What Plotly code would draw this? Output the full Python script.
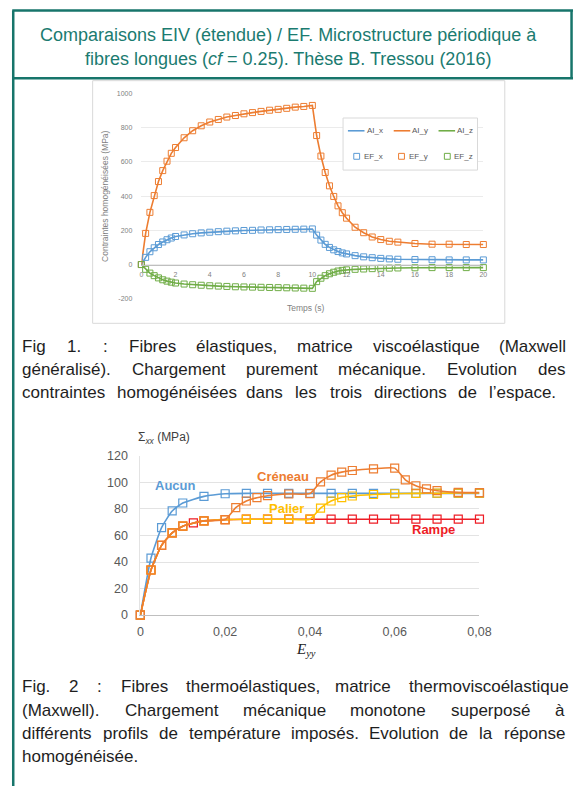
import plotly.graph_objects as go

W, H = 585, 793

# ---------------- Chart 1 data (time in s, stresses in MPa) ----------------
time_s = [0, 0.25, 0.5, 0.75, 1, 1.25, 1.5, 1.75, 2, 2.5, 3, 3.5, 4, 4.5, 5, 5.5, 6, 6.5,
          7, 7.5, 8, 8.5, 9, 9.5, 10, 10.25, 10.5, 10.75, 11, 11.25, 11.5, 11.75, 12,
          12.5, 13, 13.5, 14, 14.5, 15, 16, 17, 18, 19, 20]
sigma_x = [0, 42, 75, 98, 117, 132, 145, 155, 164, 173, 180, 185, 189, 192, 195, 197, 199, 200,
           202, 203, 204, 205, 206, 207, 208, 172, 143, 118, 100, 86, 76, 68, 62,
           52, 45, 40, 36, 33, 31, 29, 28, 27, 27, 27]
sigma_y = [0, 182, 305, 403, 485, 549, 604, 650, 684, 741, 782, 811, 833, 848, 862, 871, 881, 888,
           895, 902, 907, 913, 920, 924, 930, 754, 634, 538, 460, 398, 343, 303, 271,
           218, 186, 161, 146, 136, 131, 123, 119, 119, 117, 117]
sigma_z = [0, -28, -50, -65, -78, -89, -97, -103, -108, -114, -118, -121, -124, -126, -128, -130, -131, -132,
           -133, -134, -135, -136, -137, -138, -139, -100, -80, -65, -54, -45, -38, -34, -31,
           -28, -26, -24, -22, -21, -20, -19, -18, -18, -18, -18]
series1_names = ["x", "y", "z"]
y1_ticks = [-200, 0, 200, 400, 600, 800, 1000]
y1_ticklabels = ["-200", "0", "200", "400", "600", "800", "1000"]
x1_ticks = [0, 2, 4, 6, 8, 10, 12, 14, 16, 18, 20]

# ---------------- Chart 2 data (strain E_yy, stress Sigma_xx in MPa) ----------------
eps_aucun = [0, 0.0025, 0.005, 0.0075, 0.01, 0.015, 0.02, 0.025, 0.03, 0.035, 0.04, 0.045,
             0.05, 0.055, 0.06, 0.065, 0.07, 0.075, 0.08]
sig_aucun = [0, 43, 66, 78.5, 84.5, 89.5, 91.5, 91.8, 91.8, 91.8, 91.8, 91.8,
             91.8, 91.8, 91.8, 91.8, 91.8, 91.8, 91.8]
eps_rampe = [0, 0.0025, 0.005, 0.0075, 0.01, 0.0125, 0.015, 0.02, 0.025, 0.03, 0.035, 0.04,
             0.045, 0.05, 0.055, 0.06, 0.065, 0.07, 0.075, 0.08]
sig_rampe = [0, 34, 52.5, 62, 67, 69.5, 71, 72, 72.3, 72.3, 72.3, 72.3,
             72.3, 72.3, 72.3, 72.3, 72.3, 72.3, 72.3, 72.3]
eps_palier = [0, 0.0025, 0.005, 0.0075, 0.01, 0.015, 0.02, 0.025, 0.03, 0.035, 0.04, 0.0425,
              0.045, 0.0475, 0.05, 0.055, 0.06, 0.065, 0.07, 0.075, 0.08]
sig_palier = [0, 34, 52.5, 62, 67, 71, 72, 72.3, 72.3, 72.3, 72.3, 80.6,
              86, 88.6, 89.8, 90.9, 91.5, 91.8, 91.9, 92, 92]
eps_creneau = [0, 0.0025, 0.005, 0.0075, 0.01, 0.015, 0.02, 0.0225, 0.025, 0.0275, 0.03, 0.035,
               0.04, 0.0425, 0.045, 0.0475, 0.05, 0.055, 0.06, 0.0625, 0.065, 0.0675, 0.07, 0.075, 0.08]
sig_creneau = [0, 34, 52.5, 62, 67, 71, 72, 81, 86, 88.5, 90, 91.3,
               91.6, 100.5, 105.5, 107.8, 109, 110.3, 110.8, 102, 97.5, 95.2, 93.8, 92.5, 92.3]
series2_names = ["Aucun", "Rampe", "Palier", "Créneau"]

# ---------------- texts ----------------
title_lines = ["Comparaisons EIV (étendue) / EF. Microstructure périodique à",
               "fibres longues (<i>cf</i> = 0.25). Thèse B. Tressou (2016)"]
caption1 = ["Fig 1. : Fibres élastiques, matrice viscoélastique (Maxwell",
            "généralisé). Chargement purement mécanique. Evolution des",
            "contraintes homogénéisées dans les trois directions de l’espace."]
caption2 = ["Fig. 2 : Fibres thermoélastiques, matrice thermoviscoélastique",
            "(Maxwell). Chargement mécanique monotone superposé à",
            "différents profils de température imposés. Evolution de la réponse",
            "homogénéisée."]

# ---------------- helpers (pixels -> paper fractions) ----------------
def px(x):
    return x / W


def py(y):
    return 1 - y / H


TEAL = "#17756B"
TEAL_TXT = "#1B7B70"
BLUE, ORANGE, GREEN = "#5B9BD5", "#ED7D31", "#70AD47"
YELLOW, RED = "#FFC000", "#EE1C25"
SANS = "Liberation Sans, Arial, sans-serif"
GRAY_TXT = "#7F7F7F"

fig = go.Figure()

# chart 1 traces
cols1 = [BLUE, ORANGE, GREEN]
vals1 = [sigma_x, sigma_y, sigma_z]
for n, v, c in zip(series1_names, vals1, cols1):
    fig.add_trace(go.Scatter(x=time_s, y=v, mode="lines", name="AI_" + n,
                             line=dict(color=c, width=1.6), showlegend=False,
                             xaxis="x", yaxis="y", cliponaxis=False, hoverinfo="skip"))
for n, v, c in zip(series1_names, vals1, cols1):
    fig.add_trace(go.Scatter(x=time_s, y=v, mode="markers", name="EF_" + n,
                             marker=dict(symbol="square-open", size=6, color=c, line=dict(width=1, color=c)),
                             showlegend=False, xaxis="x", yaxis="y", cliponaxis=False))

# chart 2 traces
cols2 = [BLUE, RED, YELLOW, ORANGE]
xs2 = [eps_aucun, eps_rampe, eps_palier, eps_creneau]
ys2 = [sig_aucun, sig_rampe, sig_palier, sig_creneau]
for n, xv, yv, c in zip(series2_names, xs2, ys2, cols2):
    fig.add_trace(go.Scatter(x=xv, y=yv, mode="lines+markers", name=n,
                             line=dict(color=c, width=1.6, shape="spline", smoothing=0.5),
                             marker=dict(symbol="square-open", size=8, color=c, line=dict(width=1.2, color=c)),
                             showlegend=False, xaxis="x2", yaxis="y2", cliponaxis=False))

# axes geometry (pixels)
c1_top, c1_bot, c1_l, c1_r = 88, 297, 142, 493
c2_top, c2_bot, c2_l, c2_r = 457, 619, 141, 489
y1_dom = [py(c1_bot), py(c1_top)]
zero_pos = y1_dom[0] + (0 - (-200)) / 1200 * (y1_dom[1] - y1_dom[0])

tick1 = dict(size=7, color=GRAY_TXT, family=SANS)
tick2 = dict(size=12.5, color="#595959", family=SANS)

fig.update_layout(
    width=W, height=H, autosize=False,
    margin=dict(l=0, r=0, t=0, b=0, pad=0),
    paper_bgcolor="white", plot_bgcolor="white",
    separators=", ",
    showlegend=False,
    xaxis=dict(domain=[px(c1_l), px(c1_r)], range=[0, 20], anchor="free", position=zero_pos,
               tickmode="array", tickvals=x1_ticks, showgrid=False, zeroline=False,
               showline=True, linecolor="#BFBFBF", linewidth=1, ticks="",
               tickfont=tick1, ticklabelstandoff=3, fixedrange=True),
    yaxis=dict(domain=y1_dom, range=[-200, 1000], anchor="x", tickmode="array",
               tickvals=y1_ticks, ticktext=y1_ticklabels, showgrid=True, gridcolor="#EBEBEB",
               gridwidth=1, zeroline=False, showline=False, ticks="", tickfont=tick1,
               ticklabelstandoff=8, fixedrange=True),
    xaxis2=dict(domain=[px(c2_l), px(c2_r)], range=[0, 0.08], anchor="y2", dtick=0.02,
                tick0=0, showgrid=False, zeroline=False, showline=True, linecolor="#BFBFBF",
                linewidth=1, ticks="", tickfont=tick2, ticklabelstandoff=5, fixedrange=True),
    yaxis2=dict(domain=[py(c2_bot), py(c2_top)], range=[0, 120], anchor="x2", dtick=20,
                tick0=0, showgrid=True, gridcolor="#E3E3E3", gridwidth=1, zeroline=False,
                showline=True, linecolor="#E3E3E3", ticks="", tickfont=tick2,
                ticklabelstandoff=9, fixedrange=True),
)

shapes = []
# frame
tl = dict(color=TEAL, width=2.5)
shapes.append(dict(type="line", xref="paper", yref="paper", x0=px(9.5), x1=1, y0=py(3.5), y1=py(3.5), line=tl))
shapes.append(dict(type="line", xref="paper", yref="paper", x0=px(10.5), x1=px(10.5), y0=py(3.5), y1=0, line=tl))
shapes.append(dict(type="line", xref="paper", yref="paper", x0=px(583.5), x1=px(583.5), y0=py(3.5), y1=py(72.5), line=tl))
shapes.append(dict(type="line", xref="paper", yref="paper", x0=px(10), x1=1, y0=py(72.5), y1=py(72.5), line=tl))
# chart 1 frame
shapes.append(dict(type="rect", xref="paper", yref="paper", x0=px(92), x1=px(515), y0=py(322), y1=py(75),
                   line=dict(color="#D9D9D9", width=1), layer="below"))
# chart 1 legend box
shapes.append(dict(type="rect", xref="paper", yref="paper", x0=px(349), x1=px(487), y0=py(166), y1=py(113),
                   line=dict(color="#D9D9D9", width=1), fillcolor="white", layer="above"))

annotations = []


def ann(text, x, y, xanchor="center", yanchor="middle", font=None, **kw):
    d = dict(text=text, x=x, y=y, xref=kw.pop("xref", "paper"), yref=kw.pop("yref", "paper"),
             xanchor=xanchor, yanchor=yanchor, showarrow=False, font=font,
             borderpad=0, borderwidth=0)
    d.update(kw)
    annotations.append(d)


leg_font = dict(size=8, color="#595959", family=SANS)
leg_line_x = [354, 401, 447]
leg_mark_x = [363, 409, 456]
leg_txt1_x = [374, 420, 466]
leg_txt2_x = [370, 417, 463]
for i, (n, c) in enumerate(zip(series1_names, cols1)):
    shapes.append(dict(type="line", xref="paper", yref="paper", x0=px(leg_line_x[i]), x1=px(leg_line_x[i] + 17),
                       y0=py(126), y1=py(126), line=dict(color=c, width=1.6), layer="above"))
    shapes.append(dict(type="rect", xref="paper", yref="paper", x0=px(leg_mark_x[i] - 3), x1=px(leg_mark_x[i] + 3),
                       y0=py(155), y1=py(149), line=dict(color=c, width=1), layer="above"))
    ann("AI_" + n, px(leg_txt1_x[i]), py(126), xanchor="left", font=leg_font)
    ann("EF_" + n, px(leg_txt2_x[i]), py(152), xanchor="left", font=leg_font)

# chart 1 axis titles
ax_font = dict(size=8.5, color=GRAY_TXT, family=SANS)
ann("Contraintes homogénéisées (MPa)", px(104), py(192), font=ax_font, textangle=-90)
ann("Temps (s)", px(310), py(306), font=ax_font)

# chart 2 axis titles
ann("Σ<sub><i>xx</i></sub> (MPa)", px(139), py(439), xanchor="left",
    font=dict(size=12, color="#404040", family=SANS))
ann("<i>E</i><sub><i>yy</i></sub>", px(311), py(655),
    font=dict(size=15, color="#222222", family="Liberation Serif, serif"))

# chart 2 series labels
lab_pos = {"Aucun": (0.0083, 98), "Créneau": (0.0336, 104.5), "Palier": (0.0345, 80.7), "Rampe": (0.0692, 64.4)}
for n, c in zip(series2_names, cols2):
    lx, ly = lab_pos[n]
    ann("<b>" + n + "</b>", lx, ly, xref="x2", yref="y2", font=dict(size=13, color=c, family=SANS))

# header title
for t, yy in zip(title_lines, [28.5, 53]):
    ann(t, px(293), py(yy), font=dict(size=18, color=TEAL_TXT, family=SANS))

# justified captions (word placement from Arial/Liberation Sans advance widths)
ARIAL = {' ': 278, '(': 333, ')': 333, ',': 278, '-': 333, '.': 278, '/': 278, ':': 278, ';': 278,
         '’': 222, "'": 191, '_': 556,
         'A': 667, 'B': 667, 'C': 722, 'D': 722, 'E': 667, 'F': 611, 'G': 778, 'H': 722, 'I': 278,
         'J': 500, 'K': 667, 'L': 556, 'M': 833, 'N': 722, 'O': 778, 'P': 667, 'Q': 778, 'R': 722,
         'S': 667, 'T': 611, 'U': 722, 'V': 667, 'W': 944, 'X': 667, 'Y': 667, 'Z': 611,
         'a': 556, 'b': 556, 'c': 500, 'd': 556, 'e': 556, 'f': 278, 'g': 556, 'h': 556, 'i': 222,
         'j': 222, 'k': 500, 'l': 222, 'm': 833, 'n': 556, 'o': 556, 'p': 556, 'q': 556, 'r': 333,
         's': 500, 't': 278, 'u': 556, 'v': 500, 'w': 722, 'x': 500, 'y': 500, 'z': 500,
         'é': 556, 'è': 556, 'ê': 556, 'à': 556, 'â': 556, 'ç': 500, 'ô': 556, 'î': 278}
CAP_SIZE = 17
CAP_L, CAP_R = 20, 576
cap_font = dict(size=CAP_SIZE, color="#1E1E1E", family=SANS)


def text_w(s):
    return sum(ARIAL.get(ch, 556) for ch in s) * CAP_SIZE / 1000


def add_caption(lines, ys, rights):
    for line, yy, right in zip(lines, ys, rights):
        if right is None:
            ann(line, px(CAP_L), py(yy), xanchor="left", font=cap_font)
            continue
        words = line.split(" ")
        widths = [text_w(w) for w in words]
        gap = (right - CAP_L - sum(widths)) / (len(words) - 1)
        x = CAP_L
        for w, wd in zip(words, widths):
            ann(w, px(x), py(yy), xanchor="left", font=cap_font)
            x += wd + gap


add_caption(caption1, [345.5, 369, 392.5], [CAP_R, CAP_R, 566])
add_caption(caption2, [692, 716, 739.5, 763], [CAP_R, CAP_R, CAP_R, None])

fig.update_layout(shapes=shapes, annotations=annotations)

fig.write_html("out.html", config={"displayModeBar": False, "responsive": False},
               post_script="document.body.style.margin='0';document.body.style.padding='0';")
